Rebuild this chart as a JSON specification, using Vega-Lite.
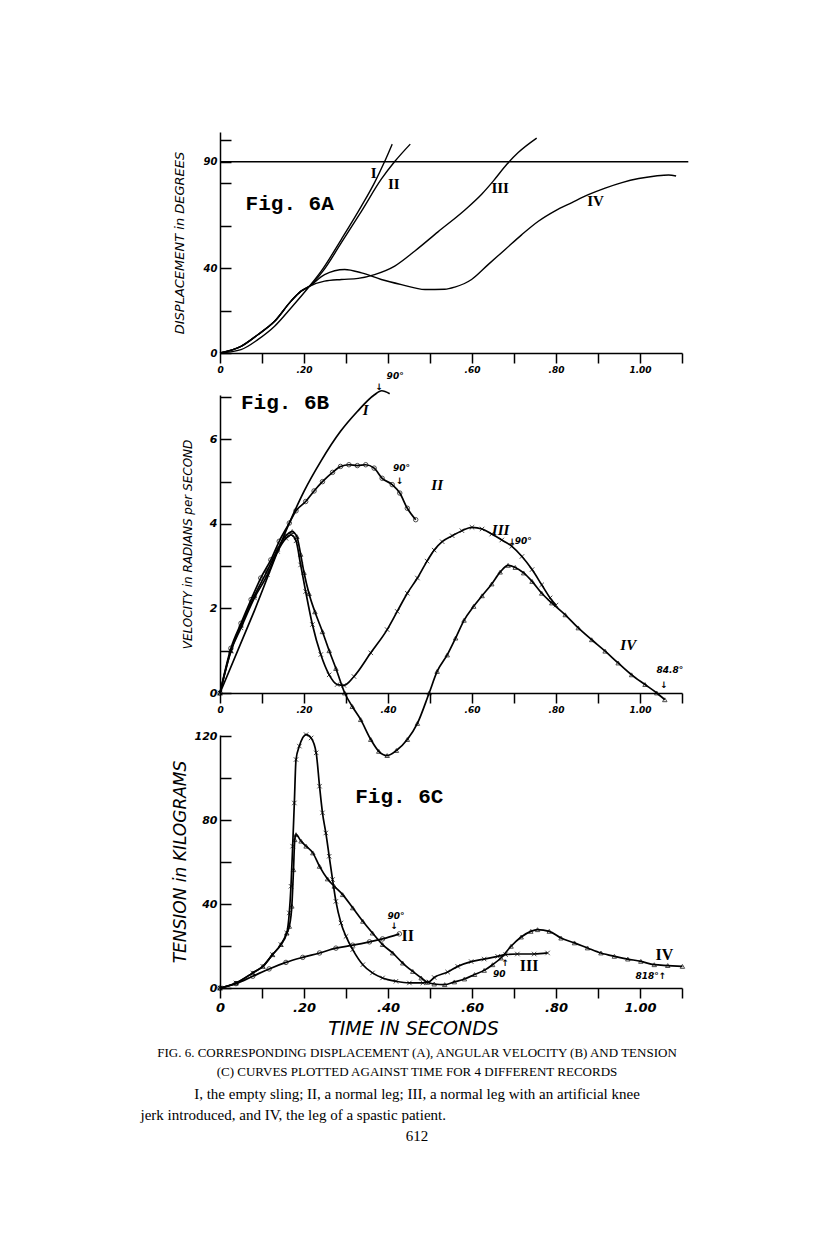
{
  "$schema": "https://vega.github.io/schema/vega-lite/v6.json",
  "background": "white",
  "padding": {"left": 140, "top": 132, "right": 5, "bottom": 5},
  "bounds": "flush",
  "spacing": 42,
  "title": {
    "text": ["FIG. 6. CORRESPONDING DISPLACEMENT (A), ANGULAR VELOCITY (B) AND TENSION", "(C) CURVES PLOTTED AGAINST TIME FOR 4 DIFFERENT RECORDS"],
    "subtitle": ["I, the empty sling; II, a normal leg; III, a normal leg with an artificial knee", "jerk introduced, and IV, the leg of a spastic patient.\u00a0\u00a0\u00a0\u00a0\u00a0\u00a0\u00a0\u00a0\u00a0\u00a0\u00a0\u00a0\u00a0\u00a0\u00a0\u00a0\u00a0\u00a0\u00a0\u00a0\u00a0\u00a0\u00a0\u00a0\u00a0\u00a0\u00a0\u00a0\u00a0\u00a0\u00a0\u00a0\u00a0\u00a0\u00a0\u00a0\u00a0\u00a0\u00a0\u00a0\u00a0\u00a0\u00a0\u00a0\u00a0\u00a0\u00a0\u00a0\u00a0\u00a0\u00a0\u00a0\u00a0\u00a0\u00a0\u00a0\u00a0\u00a0\u00a0\u00a0\u00a0\u00a0\u00a0\u00a0\u00a0\u00a0\u200b", "612"],
    "orient": "bottom", "anchor": "middle", "frame": "group", "dx": -34, "offset": 9,
    "font": "Liberation Serif", "fontSize": 13, "fontWeight": "normal", "lineHeight": 19, "color": "black",
    "subtitleFont": "Liberation Serif", "subtitleFontSize": 15, "subtitleLineHeight": 21, "subtitlePadding": 8, "subtitleColor": "black"
  },
  "datasets": {
    "dispA": [
      {"series": "90", "t": 0, "v": 90}, {"series": "90", "t": 1.115, "v": 90},
      {"series": "I", "t": 0, "v": 0}, {"series": "I", "t": 0.05, "v": 1.6}, {"series": "I", "t": 0.09, "v": 6.3}, {"series": "I", "t": 0.13, "v": 12.6}, {"series": "I", "t": 0.169, "v": 21.2}, {"series": "I", "t": 0.213, "v": 31.4}, {"series": "I", "t": 0.241, "v": 38.5}, {"series": "I", "t": 0.289, "v": 53.5}, {"series": "I", "t": 0.337, "v": 69.2}, {"series": "I", "t": 0.368, "v": 80.2}, {"series": "I", "t": 0.392, "v": 90.1}, {"series": "I", "t": 0.41, "v": 98.3},
      {"series": "II", "t": 0, "v": 0}, {"series": "II", "t": 0.05, "v": 3.1}, {"series": "II", "t": 0.09, "v": 8.6}, {"series": "II", "t": 0.13, "v": 14.9}, {"series": "II", "t": 0.169, "v": 24.4}, {"series": "II", "t": 0.193, "v": 29.1}, {"series": "II", "t": 0.213, "v": 31.4}, {"series": "II", "t": 0.245, "v": 38.5}, {"series": "II", "t": 0.289, "v": 51.9}, {"series": "II", "t": 0.337, "v": 66.8}, {"series": "II", "t": 0.384, "v": 81.8}, {"series": "II", "t": 0.416, "v": 90.1}, {"series": "II", "t": 0.453, "v": 98.3},
      {"series": "III", "t": 0, "v": 0}, {"series": "III", "t": 0.05, "v": 3.1}, {"series": "III", "t": 0.09, "v": 8.6}, {"series": "III", "t": 0.13, "v": 14.9}, {"series": "III", "t": 0.169, "v": 24.4}, {"series": "III", "t": 0.193, "v": 29.1}, {"series": "III", "t": 0.213, "v": 31.4}, {"series": "III", "t": 0.249, "v": 33.8}, {"series": "III", "t": 0.289, "v": 34.6}, {"series": "III", "t": 0.329, "v": 35.1}, {"series": "III", "t": 0.368, "v": 36.9}, {"series": "III", "t": 0.416, "v": 40.9}, {"series": "III", "t": 0.464, "v": 48.0}, {"series": "III", "t": 0.519, "v": 57.0}, {"series": "III", "t": 0.583, "v": 67.3}, {"series": "III", "t": 0.623, "v": 74.7}, {"series": "III", "t": 0.651, "v": 81.0}, {"series": "III", "t": 0.683, "v": 88.8}, {"series": "III", "t": 0.71, "v": 94.3}, {"series": "III", "t": 0.754, "v": 101.1},
      {"series": "IV", "t": 0, "v": 0}, {"series": "IV", "t": 0.05, "v": 3.1}, {"series": "IV", "t": 0.09, "v": 8.6}, {"series": "IV", "t": 0.13, "v": 14.9}, {"series": "IV", "t": 0.169, "v": 24.4}, {"series": "IV", "t": 0.193, "v": 29.1}, {"series": "IV", "t": 0.213, "v": 31.4}, {"series": "IV", "t": 0.249, "v": 36.9}, {"series": "IV", "t": 0.297, "v": 39.3}, {"series": "IV", "t": 0.337, "v": 37.7}, {"series": "IV", "t": 0.384, "v": 34.6}, {"series": "IV", "t": 0.432, "v": 32.2}, {"series": "IV", "t": 0.488, "v": 29.9}, {"series": "IV", "t": 0.535, "v": 30.0}, {"series": "IV", "t": 0.559, "v": 31.0}, {"series": "IV", "t": 0.599, "v": 34.6}, {"series": "IV", "t": 0.639, "v": 41.7}, {"series": "IV", "t": 0.679, "v": 48.7}, {"series": "IV", "t": 0.718, "v": 55.6}, {"series": "IV", "t": 0.758, "v": 62.0}, {"series": "IV", "t": 0.798, "v": 66.9}, {"series": "IV", "t": 0.838, "v": 70.8}, {"series": "IV", "t": 0.877, "v": 74.5}, {"series": "IV", "t": 0.917, "v": 77.6}, {"series": "IV", "t": 0.957, "v": 80.2}, {"series": "IV", "t": 0.997, "v": 82.1}, {"series": "IV", "t": 1.037, "v": 83.3}, {"series": "IV", "t": 1.068, "v": 83.8}, {"series": "IV", "t": 1.086, "v": 83.3}
    ],
    "velB": [
      {"series": "I", "t": 0, "v": 0}, {"series": "I", "t": 0.082, "v": 1.95}, {"series": "I", "t": 0.165, "v": 4.02}, {"series": "I", "t": 0.2, "v": 4.77}, {"series": "I", "t": 0.24, "v": 5.48}, {"series": "I", "t": 0.287, "v": 6.19}, {"series": "I", "t": 0.327, "v": 6.66}, {"series": "I", "t": 0.367, "v": 7.05}, {"series": "I", "t": 0.385, "v": 7.15}, {"series": "I", "t": 0.404, "v": 7.08},
      {"series": "II", "t": 0, "v": 0}, {"series": "II", "t": 0.026, "v": 1.06}, {"series": "II", "t": 0.05, "v": 1.65}, {"series": "II", "t": 0.074, "v": 2.21}, {"series": "II", "t": 0.097, "v": 2.72}, {"series": "II", "t": 0.121, "v": 3.15}, {"series": "II", "t": 0.141, "v": 3.59}, {"series": "II", "t": 0.165, "v": 4.02}, {"series": "II", "t": 0.181, "v": 4.31}, {"series": "II", "t": 0.204, "v": 4.53}, {"series": "II", "t": 0.224, "v": 4.78}, {"series": "II", "t": 0.244, "v": 5.0}, {"series": "II", "t": 0.268, "v": 5.22}, {"series": "II", "t": 0.287, "v": 5.36}, {"series": "II", "t": 0.307, "v": 5.4}, {"series": "II", "t": 0.327, "v": 5.38}, {"series": "II", "t": 0.347, "v": 5.4}, {"series": "II", "t": 0.367, "v": 5.32}, {"series": "II", "t": 0.386, "v": 5.08}, {"series": "II", "t": 0.41, "v": 4.93}, {"series": "II", "t": 0.428, "v": 4.73}, {"series": "II", "t": 0.446, "v": 4.37}, {"series": "II", "t": 0.466, "v": 4.1},
      {"series": "III", "t": 0, "v": 0}, {"series": "III", "t": 0.026, "v": 0.99}, {"series": "III", "t": 0.05, "v": 1.54}, {"series": "III", "t": 0.082, "v": 2.25}, {"series": "III", "t": 0.113, "v": 2.8}, {"series": "III", "t": 0.137, "v": 3.35}, {"series": "III", "t": 0.157, "v": 3.66}, {"series": "III", "t": 0.169, "v": 3.74}, {"series": "III", "t": 0.181, "v": 3.6}, {"series": "III", "t": 0.192, "v": 3.03}, {"series": "III", "t": 0.204, "v": 2.4}, {"series": "III", "t": 0.22, "v": 1.62}, {"series": "III", "t": 0.24, "v": 0.91}, {"series": "III", "t": 0.26, "v": 0.43}, {"series": "III", "t": 0.279, "v": 0.2}, {"series": "III", "t": 0.295, "v": 0.18}, {"series": "III", "t": 0.319, "v": 0.39}, {"series": "III", "t": 0.359, "v": 0.95}, {"series": "III", "t": 0.398, "v": 1.5}, {"series": "III", "t": 0.422, "v": 1.93}, {"series": "III", "t": 0.446, "v": 2.36}, {"series": "III", "t": 0.47, "v": 2.72}, {"series": "III", "t": 0.493, "v": 3.12}, {"series": "III", "t": 0.51, "v": 3.38}, {"series": "III", "t": 0.529, "v": 3.58}, {"series": "III", "t": 0.553, "v": 3.72}, {"series": "III", "t": 0.576, "v": 3.84}, {"series": "III", "t": 0.6, "v": 3.92}, {"series": "III", "t": 0.624, "v": 3.88}, {"series": "III", "t": 0.647, "v": 3.76}, {"series": "III", "t": 0.671, "v": 3.62}, {"series": "III", "t": 0.695, "v": 3.47}, {"series": "III", "t": 0.719, "v": 3.23}, {"series": "III", "t": 0.743, "v": 2.92}, {"series": "III", "t": 0.766, "v": 2.56}, {"series": "III", "t": 0.786, "v": 2.25}, {"series": "III", "t": 0.8, "v": 2.08},
      {"series": "IV", "t": 0, "v": 0}, {"series": "IV", "t": 0.026, "v": 1.0}, {"series": "IV", "t": 0.05, "v": 1.6}, {"series": "IV", "t": 0.082, "v": 2.3}, {"series": "IV", "t": 0.113, "v": 2.9}, {"series": "IV", "t": 0.137, "v": 3.4}, {"series": "IV", "t": 0.157, "v": 3.72}, {"series": "IV", "t": 0.172, "v": 3.82}, {"series": "IV", "t": 0.183, "v": 3.7}, {"series": "IV", "t": 0.192, "v": 3.28}, {"series": "IV", "t": 0.2, "v": 2.85}, {"series": "IV", "t": 0.212, "v": 2.35}, {"series": "IV", "t": 0.226, "v": 1.92}, {"series": "IV", "t": 0.244, "v": 1.45}, {"series": "IV", "t": 0.26, "v": 1.0}, {"series": "IV", "t": 0.276, "v": 0.58}, {"series": "IV", "t": 0.297, "v": 0}, {"series": "IV", "t": 0.315, "v": -0.32}, {"series": "IV", "t": 0.335, "v": -0.63}, {"series": "IV", "t": 0.359, "v": -1.1}, {"series": "IV", "t": 0.378, "v": -1.38}, {"series": "IV", "t": 0.398, "v": -1.48}, {"series": "IV", "t": 0.42, "v": -1.36}, {"series": "IV", "t": 0.446, "v": -1.1}, {"series": "IV", "t": 0.47, "v": -0.72}, {"series": "IV", "t": 0.498, "v": 0}, {"series": "IV", "t": 0.517, "v": 0.51}, {"series": "IV", "t": 0.541, "v": 0.9}, {"series": "IV", "t": 0.561, "v": 1.3}, {"series": "IV", "t": 0.581, "v": 1.72}, {"series": "IV", "t": 0.604, "v": 2.05}, {"series": "IV", "t": 0.624, "v": 2.3}, {"series": "IV", "t": 0.647, "v": 2.58}, {"series": "IV", "t": 0.667, "v": 2.86}, {"series": "IV", "t": 0.686, "v": 3.02}, {"series": "IV", "t": 0.703, "v": 2.97}, {"series": "IV", "t": 0.723, "v": 2.84}, {"series": "IV", "t": 0.743, "v": 2.64}, {"series": "IV", "t": 0.766, "v": 2.36}, {"series": "IV", "t": 0.79, "v": 2.13}, {"series": "IV", "t": 0.822, "v": 1.85}, {"series": "IV", "t": 0.853, "v": 1.54}, {"series": "IV", "t": 0.885, "v": 1.26}, {"series": "IV", "t": 0.917, "v": 0.99}, {"series": "IV", "t": 0.948, "v": 0.71}, {"series": "IV", "t": 0.98, "v": 0.43}, {"series": "IV", "t": 1.012, "v": 0.2}, {"series": "IV", "t": 1.04, "v": 0}, {"series": "IV", "t": 1.059, "v": -0.16}
    ],
    "tenC": [
      {"series": "II", "t": 0, "v": 0}, {"series": "II", "t": 0.038, "v": 2.1}, {"series": "II", "t": 0.078, "v": 5.6}, {"series": "II", "t": 0.117, "v": 9.1}, {"series": "II", "t": 0.157, "v": 12.2}, {"series": "II", "t": 0.197, "v": 14.6}, {"series": "II", "t": 0.237, "v": 16.7}, {"series": "II", "t": 0.276, "v": 19.0}, {"series": "II", "t": 0.316, "v": 20.4}, {"series": "II", "t": 0.356, "v": 22.0}, {"series": "II", "t": 0.387, "v": 23.4}, {"series": "II", "t": 0.427, "v": 25.8},
      {"series": "III", "t": 0, "v": 0}, {"series": "III", "t": 0.038, "v": 2.4}, {"series": "III", "t": 0.078, "v": 7.2}, {"series": "III", "t": 0.102, "v": 10.3}, {"series": "III", "t": 0.125, "v": 15.9}, {"series": "III", "t": 0.145, "v": 20.7}, {"series": "III", "t": 0.159, "v": 26.2}, {"series": "III", "t": 0.165, "v": 35.8}, {"series": "III", "t": 0.169, "v": 48.5}, {"series": "III", "t": 0.173, "v": 67.6}, {"series": "III", "t": 0.177, "v": 88.2}, {"series": "III", "t": 0.181, "v": 108.9}, {"series": "III", "t": 0.189, "v": 115.3}, {"series": "III", "t": 0.205, "v": 120.8}, {"series": "III", "t": 0.217, "v": 119.2}, {"series": "III", "t": 0.229, "v": 112.1}, {"series": "III", "t": 0.237, "v": 96.2}, {"series": "III", "t": 0.244, "v": 83.5}, {"series": "III", "t": 0.252, "v": 73.9}, {"series": "III", "t": 0.26, "v": 62.8}, {"series": "III", "t": 0.268, "v": 51.7}, {"series": "III", "t": 0.276, "v": 41.3}, {"series": "III", "t": 0.288, "v": 31.0}, {"series": "III", "t": 0.3, "v": 24.6}, {"series": "III", "t": 0.316, "v": 18.3}, {"series": "III", "t": 0.34, "v": 11.1}, {"series": "III", "t": 0.363, "v": 7.2}, {"series": "III", "t": 0.387, "v": 4.8}, {"series": "III", "t": 0.419, "v": 3.2}, {"series": "III", "t": 0.451, "v": 2.4}, {"series": "III", "t": 0.483, "v": 2.4}, {"series": "III", "t": 0.498, "v": 2.9}, {"series": "III", "t": 0.51, "v": 5.0}, {"series": "III", "t": 0.542, "v": 7.6}, {"series": "III", "t": 0.566, "v": 10.3}, {"series": "III", "t": 0.598, "v": 12.6}, {"series": "III", "t": 0.629, "v": 13.8}, {"series": "III", "t": 0.661, "v": 15.1}, {"series": "III", "t": 0.68, "v": 15.9}, {"series": "III", "t": 0.708, "v": 16.2}, {"series": "III", "t": 0.748, "v": 16.2}, {"series": "III", "t": 0.78, "v": 16.7},
      {"series": "IV", "t": 0, "v": 0}, {"series": "IV", "t": 0.038, "v": 2.4}, {"series": "IV", "t": 0.078, "v": 7.2}, {"series": "IV", "t": 0.102, "v": 10.3}, {"series": "IV", "t": 0.125, "v": 15.9}, {"series": "IV", "t": 0.145, "v": 20.7}, {"series": "IV", "t": 0.159, "v": 26.2}, {"series": "IV", "t": 0.165, "v": 29.4}, {"series": "IV", "t": 0.171, "v": 39.0}, {"series": "IV", "t": 0.175, "v": 56.4}, {"series": "IV", "t": 0.178, "v": 70.7}, {"series": "IV", "t": 0.181, "v": 73.1}, {"series": "IV", "t": 0.193, "v": 70.0}, {"series": "IV", "t": 0.205, "v": 67.6}, {"series": "IV", "t": 0.221, "v": 64.4}, {"series": "IV", "t": 0.237, "v": 58.0}, {"series": "IV", "t": 0.256, "v": 52.0}, {"series": "IV", "t": 0.272, "v": 48.5}, {"series": "IV", "t": 0.292, "v": 44.5}, {"series": "IV", "t": 0.316, "v": 38.2}, {"series": "IV", "t": 0.34, "v": 31.8}, {"series": "IV", "t": 0.363, "v": 26.2}, {"series": "IV", "t": 0.387, "v": 20.7}, {"series": "IV", "t": 0.411, "v": 16.7}, {"series": "IV", "t": 0.435, "v": 11.9}, {"series": "IV", "t": 0.459, "v": 7.9}, {"series": "IV", "t": 0.479, "v": 4.8}, {"series": "IV", "t": 0.494, "v": 2.7}, {"series": "IV", "t": 0.51, "v": 1.9}, {"series": "IV", "t": 0.535, "v": 1.6}, {"series": "IV", "t": 0.558, "v": 2.9}, {"series": "IV", "t": 0.582, "v": 4.3}, {"series": "IV", "t": 0.606, "v": 6.4}, {"series": "IV", "t": 0.629, "v": 8.4}, {"series": "IV", "t": 0.649, "v": 11.1}, {"series": "IV", "t": 0.669, "v": 14.3}, {"series": "IV", "t": 0.693, "v": 19.9}, {"series": "IV", "t": 0.717, "v": 24.3}, {"series": "IV", "t": 0.74, "v": 27.0}, {"series": "IV", "t": 0.756, "v": 27.8}, {"series": "IV", "t": 0.784, "v": 27.0}, {"series": "IV", "t": 0.812, "v": 23.8}, {"series": "IV", "t": 0.844, "v": 21.5}, {"series": "IV", "t": 0.875, "v": 19.1}, {"series": "IV", "t": 0.907, "v": 16.7}, {"series": "IV", "t": 0.939, "v": 15.1}, {"series": "IV", "t": 0.971, "v": 13.8}, {"series": "IV", "t": 1.002, "v": 12.7}, {"series": "IV", "t": 1.034, "v": 11.1}, {"series": "IV", "t": 1.066, "v": 10.7}, {"series": "IV", "t": 1.101, "v": 10.3}
    ],
    "labA": [
      {"kind": "fig", "text": "Fig. 6A", "t": 0.166, "v": 70},
      {"kind": "num", "text": "I", "t": 0.366, "v": 84.9},
      {"kind": "num", "text": "II", "t": 0.414, "v": 79.4},
      {"kind": "num", "text": "III", "t": 0.667, "v": 77.8},
      {"kind": "num", "text": "IV", "t": 0.894, "v": 71.5}
    ],
    "labB": [
      {"kind": "fig", "text": "Fig. 6B", "t": 0.155, "v": 6.86},
      {"kind": "num", "text": "I", "t": 0.347, "v": 6.7},
      {"kind": "num", "text": "II", "t": 0.517, "v": 4.92},
      {"kind": "num", "text": "III", "t": 0.668, "v": 3.86},
      {"kind": "num", "text": "IV", "t": 0.972, "v": 1.14},
      {"kind": "note", "text": "90°", "t": 0.417, "v": 7.5},
      {"kind": "note", "text": "↓", "t": 0.379, "v": 7.25},
      {"kind": "note", "text": "90°", "t": 0.432, "v": 5.32},
      {"kind": "note", "text": "↓", "t": 0.428, "v": 5.02},
      {"kind": "note", "text": "90°", "t": 0.722, "v": 3.6},
      {"kind": "note", "text": "↓", "t": 0.696, "v": 3.58},
      {"kind": "note", "text": "84.8°", "t": 1.071, "v": 0.55},
      {"kind": "note", "text": "↓", "t": 1.057, "v": 0.2}
    ],
    "labC": [
      {"kind": "fig", "text": "Fig. 6C", "t": 0.427, "v": 91.2},
      {"kind": "num", "text": "II", "t": 0.447, "v": 24.6},
      {"kind": "num", "text": "III", "t": 0.736, "v": 10.3},
      {"kind": "num", "text": "IV", "t": 1.058, "v": 15.9},
      {"kind": "note", "text": "90°", "t": 0.419, "v": 34.1},
      {"kind": "note", "text": "↓", "t": 0.415, "v": 29.6},
      {"kind": "note", "text": "90", "t": 0.665, "v": 6.8},
      {"kind": "note", "text": "↑", "t": 0.679, "v": 11.9},
      {"kind": "note", "text": "818°↑", "t": 1.026, "v": 5.5}
    ]
  },
  "vconcat": [
    {
      "width": 462, "height": 221,
      "encoding": {
        "x": {"field": "t", "type": "quantitative", "scale": {"domain": [0, 1.1], "nice": false, "zero": false},
          "axis": {"title": null, "values": [0, 0.1, 0.2, 0.3, 0.4, 0.5, 0.6, 0.7, 0.8, 0.9, 1.0, 1.1],
            "labelExpr": "datum.value == 0 ? '0' : (round(datum.value*10) == 2 || round(datum.value*10) == 6 || round(datum.value*10) == 8) ? '.' + round(datum.value*100) : round(datum.value*10) == 10 ? '1.00' : ''",
            "tickSize": 10, "labelPadding": 2, "labelFontSize": 9, "labelOverlap": false}},
        "y": {"field": "v", "type": "quantitative", "scale": {"domain": [0, 104], "nice": false},
          "axis": {"title": "DISPLACEMENT in DEGREES", "values": [0, 20, 40, 60, 80, 90, 100],
            "labelExpr": "datum.value == 0 || datum.value == 40 || datum.value == 90 ? datum.label : ''",
            "tickSize": -11, "labelPadding": 14, "labelFontSize": 10, "titleFontSize": 13, "titlePadding": 17, "labelOverlap": false}}
      },
      "layer": [
        {"data": {"name": "dispA"}, "mark": {"type": "line", "interpolate": "monotone", "stroke": "black", "strokeWidth": 1.4}, "encoding": {"detail": {"field": "series"}}},
        {"data": {"name": "labA"}, "transform": [{"filter": "datum.kind == 'fig'"}], "mark": {"type": "text", "font": "Liberation Mono", "fontWeight": "bold", "fontSize": 21, "color": "black"}, "encoding": {"text": {"field": "text"}}},
        {"data": {"name": "labA"}, "transform": [{"filter": "datum.kind == 'num'"}], "mark": {"type": "text", "font": "Liberation Serif", "fontWeight": "bold", "fontSize": 15, "color": "black"}, "encoding": {"text": {"field": "text"}}}
      ]
    },
    {
      "width": 462, "height": 298,
      "encoding": {
        "x": {"field": "t", "type": "quantitative", "scale": {"domain": [0, 1.1], "nice": false, "zero": false},
          "axis": {"title": null, "values": [0, 0.1, 0.2, 0.3, 0.4, 0.5, 0.6, 0.7, 0.8, 0.9, 1.0, 1.1],
            "labelExpr": "datum.value == 0 ? '0' : round(datum.value*10) % 2 != 0 ? '' : round(datum.value*10) == 10 ? '1.00' : '.' + round(datum.value*100)",
            "tickSize": 10, "labelPadding": 2, "labelFontSize": 9, "labelOverlap": false}},
        "y": {"field": "v", "type": "quantitative", "scale": {"domain": [0, 7.05], "nice": false},
          "axis": {"title": "VELOCITY in RADIANS per SECOND", "values": [0, 1, 2, 3, 4, 5, 6, 7],
            "labelExpr": "datum.value % 2 == 0 ? datum.label : ''",
            "tickSize": -11, "labelPadding": 14, "labelFontSize": 11, "titleFontSize": 12, "titlePadding": 15, "labelOverlap": false}}
      },
      "layer": [
        {"data": {"name": "velB"}, "mark": {"type": "line", "interpolate": "monotone", "stroke": "black", "strokeWidth": 1.7}, "encoding": {"detail": {"field": "series"}}},
        {"data": {"name": "velB"}, "transform": [{"filter": "datum.series != 'I'"}], "mark": {"type": "point", "filled": false, "stroke": "black", "strokeWidth": 1, "size": 20},
          "encoding": {"shape": {"field": "series", "type": "nominal", "scale": {"domain": ["II", "III", "IV"], "range": ["circle", "M-1,-1L1,1M-1,1L1,-1", "triangle-up"]}, "legend": null}}},
        {"data": {"name": "labB"}, "transform": [{"filter": "datum.kind == 'fig'"}], "mark": {"type": "text", "font": "Liberation Mono", "fontWeight": "bold", "fontSize": 21, "color": "black"}, "encoding": {"text": {"field": "text"}}},
        {"data": {"name": "labB"}, "transform": [{"filter": "datum.kind == 'num'"}], "mark": {"type": "text", "font": "Liberation Serif", "fontWeight": "bold", "fontStyle": "italic", "fontSize": 15, "color": "black"}, "encoding": {"text": {"field": "text"}}},
        {"data": {"name": "labB"}, "transform": [{"filter": "datum.kind == 'note'"}], "mark": {"type": "text", "font": "DejaVu Sans", "fontStyle": "italic", "fontWeight": "bold", "fontSize": 9, "color": "black"}, "encoding": {"text": {"field": "text"}}}
      ]
    },
    {
      "width": 462, "height": 253,
      "encoding": {
        "x": {"field": "t", "type": "quantitative", "scale": {"domain": [0, 1.1], "nice": false, "zero": false},
          "axis": {"title": "TIME IN SECONDS", "values": [0, 0.1, 0.2, 0.3, 0.4, 0.5, 0.6, 0.7, 0.8, 0.9, 1.0, 1.1],
            "labelExpr": "datum.value == 0 ? '0' : round(datum.value*10) % 2 != 0 ? '' : round(datum.value*10) == 10 ? '1.00' : '.' + round(datum.value*100)",
            "tickSize": 10, "labelPadding": 3, "labelFontSize": 13, "titleFontSize": 19, "titlePadding": 5, "titleX": 193, "labelOverlap": false}},
        "y": {"field": "v", "type": "quantitative", "scale": {"domain": [0, 120.6], "nice": false},
          "axis": {"title": "TENSION in KILOGRAMS", "values": [0, 20, 40, 60, 80, 100, 120],
            "labelExpr": "datum.value % 40 == 0 ? datum.label : ''",
            "tickSize": -11, "labelPadding": 14, "labelFontSize": 11, "titleFontSize": 17, "titlePadding": 5, "labelOverlap": false}}
      },
      "layer": [
        {"data": {"name": "tenC"}, "mark": {"type": "line", "interpolate": "monotone", "stroke": "black", "strokeWidth": 1.7}, "encoding": {"detail": {"field": "series"}}},
        {"data": {"name": "tenC"}, "mark": {"type": "point", "filled": false, "stroke": "black", "strokeWidth": 1, "size": 20},
          "encoding": {"shape": {"field": "series", "type": "nominal", "scale": {"domain": ["II", "III", "IV"], "range": ["circle", "M-1,-1L1,1M-1,1L1,-1", "triangle-up"]}, "legend": null}}},
        {"data": {"name": "labC"}, "transform": [{"filter": "datum.kind == 'fig'"}], "mark": {"type": "text", "font": "Liberation Mono", "fontWeight": "bold", "fontSize": 21, "color": "black"}, "encoding": {"text": {"field": "text"}}},
        {"data": {"name": "labC"}, "transform": [{"filter": "datum.kind == 'num'"}], "mark": {"type": "text", "font": "Liberation Serif", "fontWeight": "bold", "fontSize": 16, "color": "black"}, "encoding": {"text": {"field": "text"}}},
        {"data": {"name": "labC"}, "transform": [{"filter": "datum.kind == 'note'"}], "mark": {"type": "text", "font": "DejaVu Sans", "fontStyle": "italic", "fontWeight": "bold", "fontSize": 9, "color": "black"}, "encoding": {"text": {"field": "text"}}}
      ]
    }
  ],
  "config": {
    "view": {"stroke": null},
    "axis": {"grid": false, "domainColor": "black", "domainWidth": 1.5, "tickColor": "black", "tickWidth": 1.5,
      "labelColor": "black", "labelFont": "DejaVu Sans", "labelFontStyle": "italic", "labelFontWeight": "bold",
      "titleColor": "black", "titleFont": "DejaVu Sans", "titleFontStyle": "italic", "titleFontWeight": "normal", "labelBound": false, "labelFlush": false}
  }
}
